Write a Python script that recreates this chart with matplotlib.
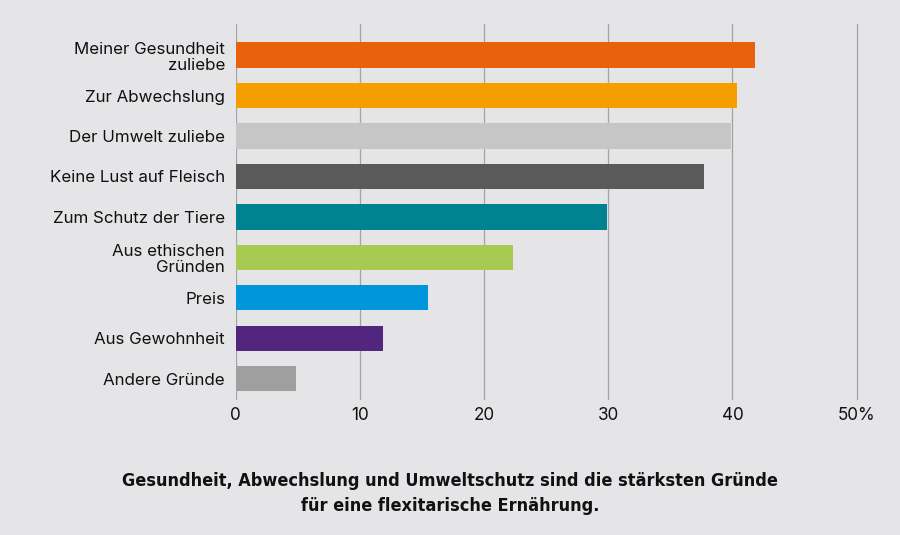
import matplotlib.pyplot as plt

# data, top to bottom
reasons = [
    "Meiner Gesundheit\nzuliebe",
    "Zur Abwechslung",
    "Der Umwelt zuliebe",
    "Keine Lust auf Fleisch",
    "Zum Schutz der Tiere",
    "Aus ethischen\nGründen",
    "Preis",
    "Aus Gewohnheit",
    "Andere Gründe",
]
shares = [41.8, 40.4, 39.9, 37.7, 29.9, 22.3, 15.5, 11.9, 4.9]
bar_colors = ["#e8620d", "#f59e00", "#c6c6c6", "#5a5a5a", "#008290",
              "#a7cb52", "#0096dc", "#52267f", "#9f9f9f"]
tick_values = [0, 10, 20, 30, 40, 50]
tick_labels = ["0", "10", "20", "30", "40", "50%"]

caption = ("Gesundheit, Abwechslung und Umweltschutz sind die stärksten Gründe\n"
           "für eine flexitarische Ernährung.")

bg = "#e5e4e6"
plt.rcParams["font.family"] = ["Inter", "DejaVu Sans"]

fig = plt.figure(figsize=(9, 5.35), dpi=100, facecolor=bg)
# 0 at x=235.5 px, ~12.42 px per unit
ax = fig.add_axes([0.2617, 0.252, 0.704, 0.703], facecolor=bg)

pos = list(range(len(reasons)))
ax.barh(pos, shares, height=0.62, color=bar_colors, zorder=3)

ax.set_xlim(0, 51)
ax.set_ylim(8.526, -0.765)
ax.set_xticks(tick_values)
ax.set_xticklabels(tick_labels, fontsize=12.3, color="#111111")
ax.set_yticks(pos)
ax.set_yticklabels(reasons, fontsize=12.2, color="#111111", linespacing=1.12)
ax.tick_params(length=0)
ax.tick_params(axis="y", pad=7.5)
ax.tick_params(axis="x", pad=5)

for v in tick_values:
    ax.axvline(v, color="#a3a3a3", linewidth=0.9, zorder=1)

for s in ax.spines.values():
    s.set_visible(False)

fig.text(0.5, 0.0776, caption, ha="center", va="center", fontsize=13,
         fontweight="bold", fontstretch="condensed", linespacing=1.55,
         color="#111111", family="DejaVu Sans")

fig.savefig("out.png", dpi=100, facecolor=bg)
